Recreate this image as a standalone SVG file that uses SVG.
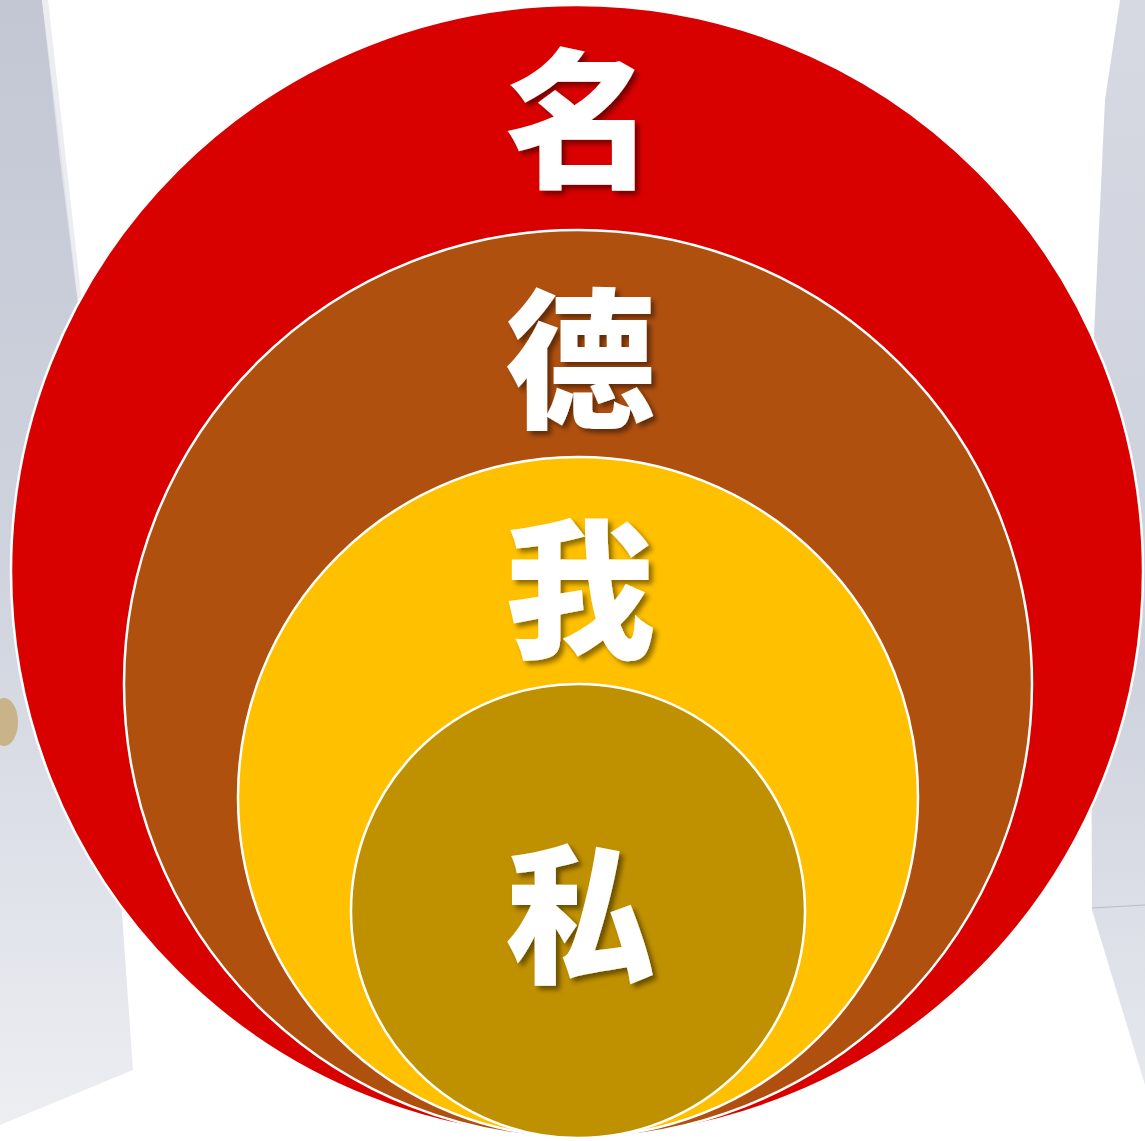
<svg xmlns="http://www.w3.org/2000/svg" width="1145" height="1141" viewBox="0 0 1145 1141">
  <defs>
    <linearGradient id="bagL" x1="0" y1="0" x2="0" y2="1">
      <stop offset="0" stop-color="#c3c7d3"/>
      <stop offset="0.5" stop-color="#cfd3de"/>
      <stop offset="1" stop-color="#eceef2"/>
    </linearGradient>
    <linearGradient id="bagR" x1="0" y1="0" x2="0" y2="1">
      <stop offset="0" stop-color="#d6d9e2"/>
      <stop offset="0.6" stop-color="#cdd1dc"/>
      <stop offset="1" stop-color="#e6e8ee"/>
    </linearGradient>
    <filter id="shadow" x="-40%" y="-40%" width="180%" height="180%">
      <feDropShadow dx="4" dy="4" stdDeviation="2.5" flood-color="#000" flood-opacity="0.45"/>
    </filter>
  </defs>
  <style>
    .ring { stroke: #ffffff; stroke-width: 2.5; }
    .label { font-family: "Noto Sans CJK SC", "Noto Sans CJK JP", sans-serif; font-weight: 900; font-size: 150px; fill: #ffffff; text-anchor: middle; filter: url(#shadow); }
  </style>
  <rect width="1145" height="1141" fill="#ffffff"/>
  <g id="background">
    <polygon points="0,0 42,0 62,160 80,320 100,600 133,1070 0,1125" fill="url(#bagL)"/>
    <polygon points="42,0 48,0 66,160 84,320 80,320 60,160" fill="#e6e8ee" opacity="0.8"/>
    <ellipse cx="4" cy="722" rx="14" ry="24" fill="#c9b48a"/>
    <polygon points="1120,0 1145,0 1145,1085 1092,910 1090,420 1105,100" fill="url(#bagR)"/>
    <line x1="1092" y1="908" x2="1145" y2="905" stroke="#b8bcc8" stroke-width="1"/>
  </g>
  <g id="node-ming">
    <circle class="ring" cx="577" cy="571" r="566" fill="#d90000" stroke-width="1.5"/>
    <text class="label" x="580" y="176">名</text>
  </g>
  <g id="node-de">
    <circle class="ring" cx="578" cy="684" r="454" fill="#b0500f"/>
    <text class="label" x="580" y="416">德</text>
  </g>
  <g id="node-wo">
    <circle class="ring" cx="578" cy="797" r="340" fill="#ffc000"/>
    <text class="label" x="580" y="646">我</text>
  </g>
  <g id="node-si">
    <circle class="ring" cx="578" cy="911" r="227" fill="#bf9000"/>
    <text class="label" x="580" y="971">私</text>
  </g>
  <g id="connectors"/>
</svg>
